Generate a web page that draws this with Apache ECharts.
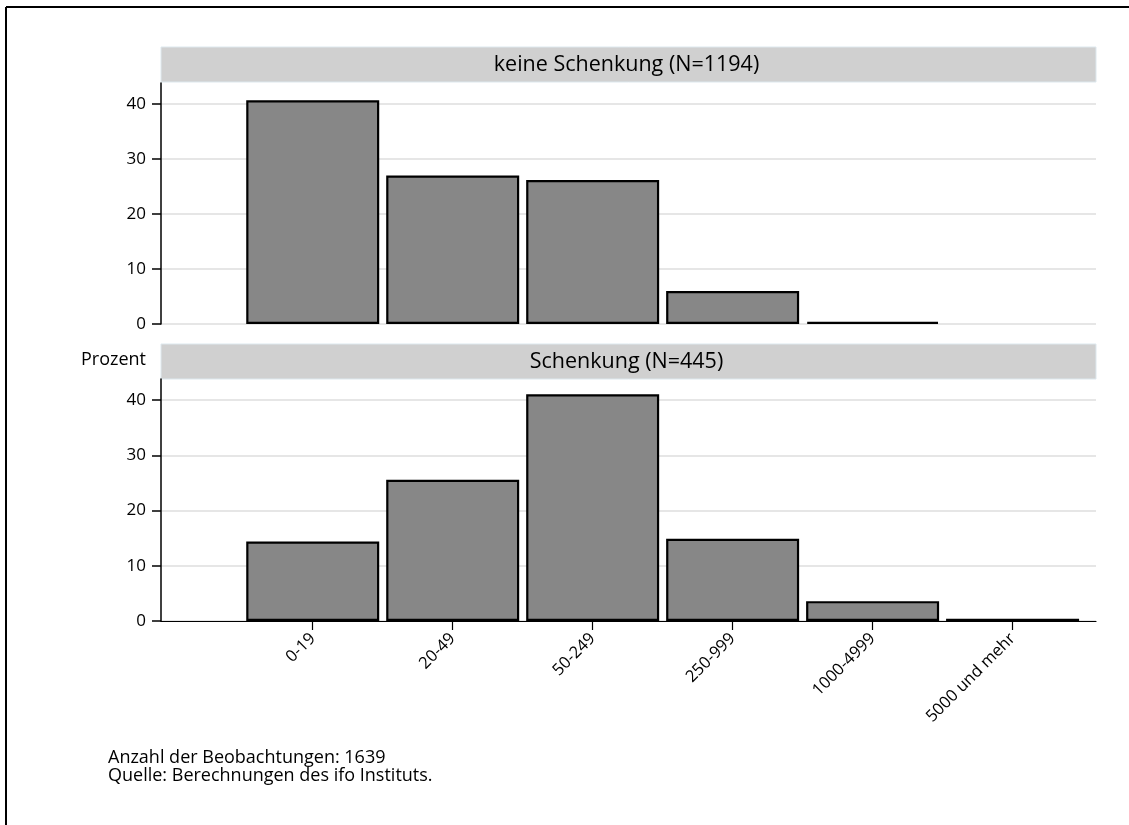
<!DOCTYPE html>
<html>
<head>
<meta charset="utf-8">
<script src="https://cdn.jsdelivr.net/npm/echarts@6/dist/echarts.min.js"></script>
<style>
  html, body { margin: 0; padding: 0; background: #fff; }
  #chart { width: 1129px; height: 825px; }
</style>
</head>
<body>
<div id="chart"></div>
<script>
// Size classes (Anzahl) and percentage shares per group
const categories = ['0-19', '20-49', '50-249', '250-999', '1000-4999', '5000 und mehr'];
const keineSchenkung = [40.7, 27.0, 26.2, 6.0, 0.4, null];
const schenkung = [14.4, 25.6, 41.1, 14.9, 3.6, 0.4];
const yTicks = [0, 10, 20, 30, 40];
const panelTitles = ['keine Schenkung (N=1194)', 'Schenkung (N=445)'];
const yTitle = 'Prozent';
const notes = ['Anzahl der Beobachtungen: 1639', 'Quelle: Berechnungen des ifo Instituts.'];

const FONT = 'Open Sans';
const catIdx = categories.map((c, i) => i);

const panels = [
  { top: 83, height: 241, headerY: 47, values: keineSchenkung, showX: false },
  { top: 379, height: 242, headerY: 344, values: schenkung, showX: true }
];
const gridLeft = 161, gridRight = 1096;

const chart = echarts.init(document.getElementById('chart'), null, { renderer: 'canvas' });

const option = {
  animation: false,
  backgroundColor: '#fff',
  textStyle: { fontFamily: FONT, color: '#000' },
  grid: panels.map(p => ({
    left: gridLeft, width: gridRight - gridLeft, top: p.top, height: p.height,
    containLabel: false
  })),
  xAxis: panels.map((p, k) => ({
    type: 'value',
    gridIndex: k,
    min: -1.084,
    max: 5.596,
    splitLine: { show: false },
    axisLine: { show: p.showX, onZero: false, lineStyle: { color: '#000', width: 1.2 } },
    axisTick: { show: p.showX, customValues: catIdx, length: 9, lineStyle: { color: '#000', width: 1.2 } },
    axisLabel: {
      show: p.showX, customValues: catIdx, rotate: 45, margin: 15,
      fontSize: 16.5, fontFamily: FONT, color: '#000',
      formatter: v => categories[Math.round(v)]
    }
  })),
  yAxis: panels.map((p, k) => ({
    type: 'value',
    gridIndex: k,
    min: 0,
    max: 43.85,
    axisLine: { show: true, onZero: false, lineStyle: { color: '#000', width: 1.5 } },
    axisTick: { show: true, customValues: yTicks, length: 9, lineStyle: { color: '#000', width: 1.5 } },
    axisLabel: { customValues: yTicks, margin: 15, fontSize: 17, fontFamily: FONT, color: '#000' },
    splitLine: { show: true, lineStyle: { color: '#e6e6e6', width: 2 } }
  })),
  series: panels.map((p, k) => ({
    type: 'bar',
    xAxisIndex: k,
    yAxisIndex: k,
    barWidth: 133,
    silent: true,
    itemStyle: { color: '#878787', borderColor: '#000', borderWidth: 2.2 },
    data: p.values.map((v, i) => [i, v]).filter(d => d[1] !== null)
  })),
  graphic: [
    // outer frame (top and left edges)
    { type: 'line', shape: { x1: 6, y1: 7, x2: 1129, y2: 7 }, style: { stroke: '#000', lineWidth: 2 } },
    { type: 'line', shape: { x1: 6, y1: 7, x2: 6, y2: 825 }, style: { stroke: '#000', lineWidth: 2 } },
    // panel headers
    ...panels.flatMap((p, k) => [
      {
        type: 'rect',
        shape: { x: gridLeft, y: p.headerY, width: gridRight - gridLeft, height: 35 },
        style: { fill: '#d0d0d0', stroke: '#dde8ee', lineWidth: 1 }
      },
      {
        type: 'text',
        x: (gridLeft + gridRight) / 2 - 2,
        y: p.headerY + 17.5,
        style: {
          text: panelTitles[k], fontSize: 21.5, fontFamily: FONT, fill: '#000',
          align: 'center', verticalAlign: 'middle'
        }
      }
    ]),
    {
      type: 'text', x: 146, y: 360,
      style: { text: yTitle, fontSize: 18, fontFamily: FONT, fill: '#000', align: 'right', verticalAlign: 'middle' }
    },
    ...notes.map((t, i) => ({
      type: 'text', x: 108, y: 758 + i * 18,
      style: { text: t, fontSize: 18, fontFamily: FONT, fill: '#000', align: 'left', verticalAlign: 'middle' }
    }))
  ]
};

chart.setOption(option);
</script>
</body>
</html>
